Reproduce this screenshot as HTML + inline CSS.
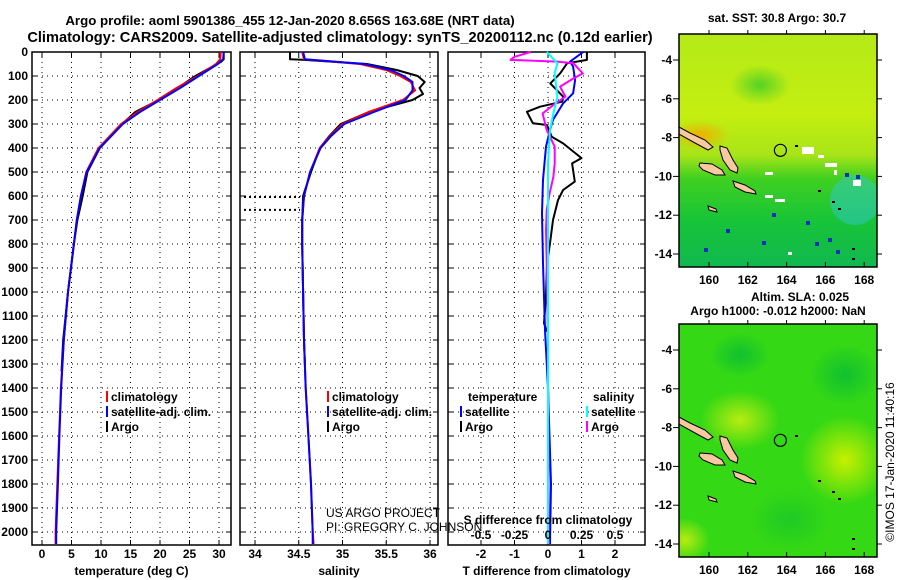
<!DOCTYPE html>
<html><head><meta charset="utf-8"><style>
html,body{margin:0;padding:0;background:#fff;}
svg{display:block;font-family:"Liberation Sans",Arial,sans-serif;}
.b{font-weight:bold;font-size:12px;}
.n{font-weight:normal;font-size:12px;}
</style></head><body>
<svg id="c" width="900" height="580" viewBox="0 0 900 580" xmlns="http://www.w3.org/2000/svg">
<defs>
<linearGradient id="sstg" x1="0" y1="0" x2="0" y2="1">
<stop offset="0" stop-color="#b4ea18"/><stop offset="0.35" stop-color="#c4ee10"/><stop offset="0.52" stop-color="#a8e418"/><stop offset="0.62" stop-color="#40d020"/><stop offset="0.8" stop-color="#18c438"/><stop offset="1" stop-color="#10b850"/>
</linearGradient>
<radialGradient id="y1"><stop offset="0" stop-color="#b8ec10"/><stop offset="1" stop-color="#b8ec10" stop-opacity="0"/></radialGradient>
<radialGradient id="y2"><stop offset="0" stop-color="#c8f000"/><stop offset="1" stop-color="#c8f000" stop-opacity="0"/></radialGradient>
<radialGradient id="g1"><stop offset="0" stop-color="#10c030"/><stop offset="1" stop-color="#10c030" stop-opacity="0"/></radialGradient>
<radialGradient id="or"><stop offset="0" stop-color="#f0b000"/><stop offset="1" stop-color="#f0b000" stop-opacity="0"/></radialGradient>
<clipPath id="m1"><rect x="679" y="34" width="198" height="233"/></clipPath>
<clipPath id="m2"><rect x="679" y="324" width="198" height="233"/></clipPath>
</defs>
<text x="290" y="25" text-anchor="middle" font-weight="bold" font-size="13.3">Argo profile: aoml 5901386_455 12-Jan-2020 8.656S 163.68E (NRT data)</text>
<text x="340" y="42" text-anchor="middle" font-weight="bold" font-size="14.6">Climatology: CARS2009. Satellite-adjusted climatology: synTS_20200112.nc (0.12d earlier)</text>
<g id="plots"></g>
<g id="maps"></g>
</svg>
<script>
// ---------- data ----------
const tDepth = [0,30,50,100,150,200,250,300,400,500,600,700,800,1000,1200,1400,1600,1800,2000,2050];
const climT = [30.3,30.2,29.5,26.4,22.8,19.6,16.2,13.4,9.6,7.5,6.6,5.9,5.4,4.4,3.7,3.2,2.9,2.6,2.3,2.3];
const satT = [30.8,30.7,29.8,26.6,23.4,20.0,16.6,13.7,9.8,7.6,6.6,5.9,5.4,4.4,3.7,3.25,2.95,2.7,2.4,2.4];
const argoTDepth = [0,30,40,100,150,200,250,300,400,500,600,700,800,1000,1200,1330];
const argoT = [30.8,30.8,30.4,26.0,23.0,19.8,15.8,13.6,9.8,7.7,6.9,6.0,5.4,4.4,3.6,3.3];
const sDepth = [0,30,50,75,100,125,160,200,250,300,350,400,500,600,700,800,1000,1200,1400,1600,1800,2000,2050];
const climS = [34.54,34.56,35.2,35.5,35.66,35.78,35.83,35.69,35.3,35.0,34.86,34.74,34.63,34.56,34.54,34.54,34.55,34.56,34.58,34.61,34.64,34.66,34.67];
const satS = [34.55,34.57,35.25,35.55,35.70,35.80,35.80,35.72,35.36,35.02,34.87,34.75,34.63,34.56,34.54,34.54,34.55,34.56,34.58,34.61,34.64,34.66,34.66];
const argoSDepth = [0,30,32,50,75,100,125,150,175,200,250,300,350,400,500,600,700,800,1000,1200,1300];
const argoS = [34.4,34.4,34.54,35.28,35.62,35.86,35.94,35.88,35.92,35.8,35.3,34.98,34.85,34.74,34.64,34.55,34.54,34.54,34.55,34.56,34.57];
const dTArgoDepth = [0,33,47,89,131,186,207,228,249,297,304,353,381,442,464,540,575,617,700,797,880,1019,1130,1165];
const dTArgo = [1.16,1.16,0.57,0.36,0.07,0.45,0.42,-0.24,-0.63,-0.45,-0.03,0.11,0.45,1.0,0.72,0.8,0.45,0.3,0.15,0.06,-0.03,-0.06,-0.12,-0.03];
const dTSatDepth = [0,40,61,117,172,214,283,325,394,533,672,880,1158,1400,1800,2050];
const dTSat = [1.05,0.66,0.75,0.81,0.75,0.45,0.15,0.06,-0.06,-0.15,-0.18,-0.15,-0.09,0.0,0.09,0.06];
const dSArgoDepth = [0,20,33,40,47,89,110,144,186,221,256,325,394,464,519,596,658,742,880,1200,2050];
const dSArgo = [-0.13,-0.25,-0.28,0.07,0.19,0.26,0.19,0.09,0.13,0.04,-0.04,-0.01,0.05,0.05,0.04,0.01,-0.01,-0.015,-0.01,0.0,0.005];
const dSSatDepth = [0,47,89,186,256,325,464,1000,2050];
const dSSat = [-0.01,0.07,0.05,0.07,0.04,0.015,0.0,0.0,0.0];
const depthTicks = [0,100,200,300,400,500,600,700,800,900,1000,1100,1200,1300,1400,1500,1600,1700,1800,1900,2000];
const tTicks = [0,5,10,15,20,25,30];
const sTicks = [34,34.5,35,35.5,36];
const dTicks = [-2,-1,0,1,2];
const dsTicks = [-0.5,-0.25,0,0.25,0.5];
const lonTicks = [160,162,164,166,168];
const latTicks = [-4,-6,-8,-10,-12,-14];
const argoLon = 163.68, argoLat = -8.656;

// ---------- axes ----------
const NS='http://www.w3.org/2000/svg';
const yD = d => 52 + d*0.24;
const xT = v => 42 + v*5.9;
const xS = v => 255 + (v-34)*87.5;
const xD = v => 548 + v*33.5;
const xDS = v => 548 + v*134;
const topY=52, botY=545;
const P=document.getElementById('plots');
function mk(tag,attrs,parent){const e=document.createElementNS(NS,tag);for(const k in attrs)e.setAttribute(k,attrs[k]);(parent||P).appendChild(e);return e;}
function txt(s,x,yy,anchor,cls,parent){const t=mk('text',{x:x,y:yy,'text-anchor':anchor||'middle',class:cls||'b'},parent);t.textContent=s;return t;}

const panels=[{x0:32,x1:231,xf:xT,ticks:tTicks,name:'temperature',title:'temperature (deg C)'},
{x0:240,x1:438,xf:xS,ticks:sTicks,name:'salinity',title:'salinity'},
{x0:448,x1:645,xf:xD,ticks:dTicks,name:'difference',title:'T difference from climatology'}];
panels.forEach((p,i)=>{
  const g=mk('g',{});
  
  
  depthTicks.forEach(d=>{
    const l=mk('line',{x1:p.x0,x2:p.x1,y1:yD(d),y2:yD(d),stroke:'#000','stroke-width':1,'stroke-dasharray':'1 4'},g);
    
    
    mk('line',{x1:p.x0,x2:p.x0+5,y1:yD(d),y2:yD(d),stroke:'#000'},g);
    mk('line',{x1:p.x1-5,x2:p.x1,y1:yD(d),y2:yD(d),stroke:'#000'},g);
  });
  p.ticks.forEach(v=>{
    const l=mk('line',{x1:p.xf(v),x2:p.xf(v),y1:topY,y2:botY,stroke:'#000','stroke-dasharray':'1 4'},g);
    
    
    mk('line',{x1:p.xf(v),x2:p.xf(v),y1:botY,y2:botY-5,stroke:'#000'},g);
    mk('line',{x1:p.xf(v),x2:p.xf(v),y1:topY,y2:topY+5,stroke:'#000'},g);
    const t=txt(String(v),p.xf(v),558,'middle','b',g);
    
    
  });
  const at=txt(p.title,(p.x0+p.x1)/2,575,'middle','b',g);
  
  
  const fr=mk('rect',{x:p.x0,y:topY,width:p.x1-p.x0,height:botY-topY,fill:'none',stroke:'#000','stroke-width':1.5},g);
  
  
});
depthTicks.forEach(d=>{
  const t=txt(String(d),28,yD(d)+4,'end','b');
  
  
});
function line(xs,ds,xf,color,name,w){
  const pts=xs.map((v,i)=>xf(v).toFixed(1)+','+yD(ds[i]).toFixed(1)).join(' ');
  const l=mk('polyline',{points:pts,fill:'none',stroke:color,'stroke-width':w||2,'stroke-linejoin':'round'});
  
  
}
line(argoT,argoTDepth,xT,'#000','argo-temperature-line');
line(climT,tDepth,xT,'#f00','climatology-temperature-line');
line(satT,tDepth,xT,'#00f','satellite-temperature-line');
line(argoS,argoSDepth,xS,'#000','argo-salinity-line');
line(climS,sDepth,xS,'#f00','climatology-salinity-line');
line(satS,sDepth,xS,'#00f','satellite-salinity-line');
line(dTArgo,dTArgoDepth,xD,'#000','argo-temperature-difference-line');
line(dTSat,dTSatDepth,xD,'#00f','satellite-temperature-difference-line');
line(dSArgo,dSArgoDepth,xDS,'#f0f','argo-salinity-difference-line');
line(dSSat,dSSatDepth,xDS,'#0ff','satellite-salinity-difference-line');
[604,658].forEach(d=>{mk('line',{x1:244,x2:300,y1:yD(d),y2:yD(d),stroke:'#000','stroke-width':2,'stroke-dasharray':'2 3'});});
dsTicks.forEach(v=>{
  const t=txt(String(v),xDS(v),539,'middle','b');
  
  
});
const sdt=txt('S difference from climatology',548,524,'middle','b');


const c1=txt('US ARGO PROJECT',326,517,'start','n');


const c2=txt('PI: GREGORY C. JOHNSON',326,531,'start','n');


function leg(x,yy,color,label){
  mk('rect',{x:x,y:yy-10,width:2,height:11,fill:color});
  const t=txt(label,x+5,yy,'start','b');
  
  
}
leg(106,401,'#f00','climatology');leg(106,416,'#00f','satellite-adj. clim.');leg(106,431,'#000','Argo');
leg(327,401,'#f00','climatology');leg(327,416,'#00f','satellite-adj. clim.');leg(327,431,'#000','Argo');
const lt=txt('temperature',468,401,'start','b');
const ls=txt('salinity',593,401,'start','b');
leg(460,416,'#00f','satellite');leg(460,431,'#000','Argo');
leg(586,416,'#0ff','satellite');leg(586,431,'#f0f','Argo');

// ---------- maps ----------
const M=document.getElementById('maps');
const mx = lon => 709 + (lon-160)*19.4;
const my = (lat,oy) => oy + 26 + (-4-lat)*19.4;
function isl(oy,g){
  const polys=[[[679,127],[690,133],[705,140],[713,147],[708,150],[695,143],[679,134]],
  [[720,146],[727,148],[733,160],[738,168],[737,173],[730,170],[723,160],[720,150]],
  [[700,163],[712,164],[722,170],[725,175],[715,175],[703,170],[699,166]],
  [[733,181],[745,185],[755,191],[756,194],[745,192],[735,187]],
  [[708,206],[716,209],[717,212],[709,210]]];
  polys.forEach(p=>{mk('polygon',{points:p.map(q=>q[0]+','+(q[1]+oy)).join(' '),fill:'#f8c8a0',stroke:'#000','stroke-width':1},g);});
  [[818,190],[832,201],[838,208],[852,248],[852,258],[795,145]].forEach(q=>mk('rect',{x:q[0],y:q[1]+oy,width:3,height:2,fill:'#000'},g));
}
function mapAxes(oy,name){
  const g=mk('g',{},M);
  
  
  mk('rect',{x:679,y:oy,width:198,height:233,fill:'none',stroke:'#000','stroke-width':1.5},g);
  lonTicks.forEach(v=>{mk('line',{x1:mx(v),x2:mx(v),y1:oy+233,y2:oy+228,stroke:'#000'},g);mk('line',{x1:mx(v),x2:mx(v),y1:oy,y2:oy-4,stroke:'#000'},g);
    const t=txt(String(v),mx(v),oy+250,'middle','b',g);});
  latTicks.forEach(v=>{mk('line',{x1:673,x2:679,y1:my(v,oy),y2:my(v,oy),stroke:'#000'},g);mk('line',{x1:877,x2:882,y1:my(v,oy),y2:my(v,oy),stroke:'#000'},g);
    const t=txt(String(v),672,my(v,oy)+4,'end','b',g);});
  const c=mk('circle',{cx:mx(argoLon),cy:my(argoLat,oy),r:6,fill:'none',stroke:'#000','stroke-width':1.2},g);
  
  
}
const g1=mk('g',{'clip-path':'url(#m1)'},M);


mk('rect',{x:679,y:34,width:198,height:233,fill:'url(#sstg)'},g1);
mk('ellipse',{cx:700,cy:135,rx:30,ry:15,fill:'url(#or)'},g1);
mk('ellipse',{cx:760,cy:85,rx:30,ry:20,fill:'url(#g1)','opacity':0.6},g1);
mk('ellipse',{cx:855,cy:200,rx:25,ry:25,fill:'#30c8d0','opacity':0.5},g1);
[[802,147,12,7],[818,155,6,3],[825,163,12,4],[834,170,3,5],[765,172,8,3],[765,195,8,3],[775,199,10,3],[853,180,8,6],[788,252,4,3]].forEach(r=>mk('rect',{x:r[0],y:r[1],width:r[2],height:r[3],fill:'#fff'},g1));
[[845,173],[856,175],[772,213],[806,221],[762,241],[726,229],[704,248],[836,250],[828,238],[815,242]].forEach(q=>mk('rect',{x:q[0],y:q[1],width:4,height:4,fill:'#0030c0'},g1));
isl(0,g1);
mapAxes(34,'sst-map');
const t1=txt('sat. SST: 30.8 Argo: 30.7',777,22,'middle','b',M);

const g2=mk('g',{'clip-path':'url(#m2)'},M);


mk('rect',{x:679,y:324,width:198,height:233,fill:'#34d814'},g2);
mk('ellipse',{cx:740,cy:420,rx:40,ry:30,fill:'url(#y1)'},g2);
mk('ellipse',{cx:845,cy:460,rx:45,ry:45,fill:'url(#y2)'},g2);
mk('ellipse',{cx:685,cy:540,rx:25,ry:22,fill:'url(#y1)'},g2);
mk('ellipse',{cx:740,cy:355,rx:30,ry:22,fill:'url(#g1)'},g2);
mk('ellipse',{cx:845,cy:375,rx:35,ry:30,fill:'url(#g1)'},g2);
mk('ellipse',{cx:790,cy:520,rx:40,ry:30,fill:'url(#g1)',opacity:0.6},g2);
isl(290,g2);
mapAxes(324,'sla-map');
const t2=txt('Altim. SLA: 0.025',800,301,'middle','b',M);

const t3=txt('Argo h1000: -0.012 h2000: NaN',778,315,'middle','b',M);

const cr=txt('©IMOS 17-Jan-2020 11:40:16',0,0,'middle','n',M);
cr.setAttribute('transform','translate(894,462) rotate(-90)');


</script>
</body></html>
